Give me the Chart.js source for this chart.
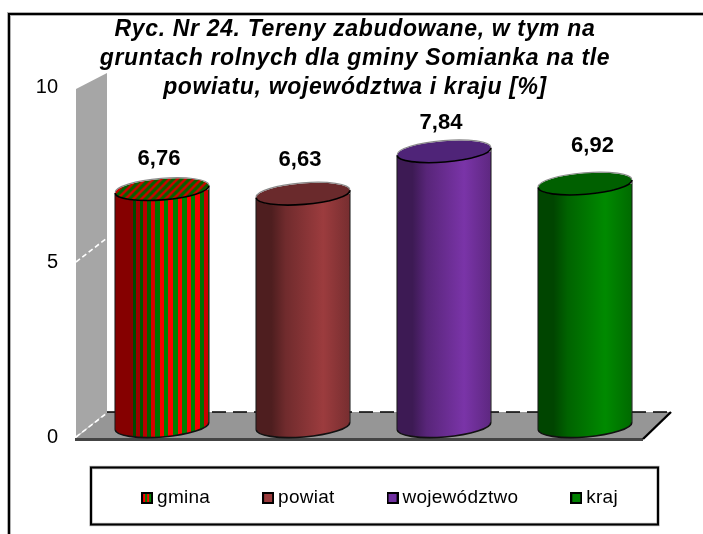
<!DOCTYPE html>
<html>
<head>
<meta charset="utf-8">
<style>html,body{margin:0;padding:0;background:#fff}canvas{display:block}</style>
<script src="https://cdn.jsdelivr.net/npm/chart.js@4/dist/chart.umd.min.js"></script>
</head>
<body>
<canvas id="c" width="703" height="534"></canvas>
<script>
const categories = ['Tereny zabudowane'];
const gmina = [6.76];
const powiat = [6.63];
const wojewodztwo = [7.84];
const kraj = [6.92];
const seriesNames = ['gmina', 'powiat', 'województwo', 'kraj'];
const yTicks = [0, 5, 10];
const titleLines = [
  'Ryc. Nr 24. Tereny zabudowane, w tym na',
  'gruntach rolnych dla gminy Somianka na tle',
  'powiatu, województwa i kraju [%]'
];

const FONT = '"Liberation Sans", Arial, sans-serif';
const DX = 15.5, DY = -11, RY = 10.5, TILT = -0.08;
const looks = [
  {mid:null, top:null, box:'#008000'},
  {mid:[156,60,62], top:'#6a2a2c', box:'#993a3c'},
  {mid:[122,52,168], top:'#4f2478', box:'#7030a0'},
  {mid:[0,138,0], top:'#006000', box:'#008000'}
];
const labelNudge = [[-3, -30.5], [-3, -34.5], [-3, -28.5], [7.5, -37.5]];
const shadeStops = [[0, .5], [.15, .72], [.55, 1], [.85, .75], [1, .35]];

function shade(rgb, k) { return 'rgb(' + rgb.map(v => Math.round(v * k)).join(',') + ')'; }

function stripes(ctx, x0, x1) {
  const g = ctx.createLinearGradient(x0, 0, x1, 0);
  const n = 24, lim = 0.6 * Math.PI / 2;
  const pos = i => 0.5 + 0.5 * Math.sin(-lim + 2 * lim * i / n) / Math.sin(lim);
  for (let i = 0; i < n; i++) {
    const a = pos(i), b = pos(i + 1), m = (a + b) / 2;
    const k = m < 0.55 ? 0.5 + 0.5 * Math.min(1, m / 0.35) : 0.4 + 0.6 * Math.min(1, (1 - m) / 0.3);
    const c = shade(i % 2 ? [0, 128, 0] : [255, 0, 0], k);
    g.addColorStop(a, c); g.addColorStop(b, c);
  }
  return g;
}

function hatch(ctx) {
  const p = document.createElement('canvas');
  p.width = p.height = 8;
  const q = p.getContext('2d');
  q.fillStyle = '#006400'; q.fillRect(0, 0, 8, 8);
  q.strokeStyle = '#d00000'; q.lineWidth = 2.6;
  q.beginPath();
  q.moveTo(-2, 2); q.lineTo(2, -2);
  q.moveTo(-2, 10); q.lineTo(10, -2);
  q.moveTo(6, 10); q.lineTo(10, 6);
  q.stroke();
  return ctx.createPattern(p, 'repeat');
}

function legendBox(i) {
  const p = document.createElement('canvas');
  p.width = p.height = 12;
  const q = p.getContext('2d');
  q.fillStyle = '#000'; q.fillRect(0, 0, 12, 12);
  q.fillStyle = looks[i].box; q.fillRect(2, 2, 8, 8);
  if (i === 0) { q.fillStyle = '#ff0000'; q.fillRect(2, 2, 2, 8); q.fillRect(6, 2, 2, 8); }
  return p;
}

function ellipsePath(ctx, cx, cy, rx) {
  ctx.beginPath();
  ctx.ellipse(cx, cy, rx, RY, TILT, 0, Math.PI * 2);
}

function spaced(box, ctx, spacing) {
  const d = box.draw;
  box.draw = function (area) {
    ctx.save();
    ctx.letterSpacing = spacing;
    d.call(box, area);
    ctx.restore();
  };
}

const scene = {
  id: 'scene',
  afterLayout(chart) {
    const lg = chart.legend, tt = chart.titleBlock;
    lg.left += 59; lg.right += 59;
    lg.top -= 6; lg.bottom -= 6;
    tt.left += 35; tt.right += 35;
    if (!chart.$spaced) {
      spaced(tt, chart.ctx, '0.65px');
      spaced(lg, chart.ctx, '0.25px');
      chart.$spaced = true;
    }
  },
  beforeDraw(chart) {
    const c = chart.ctx;
    c.save();
    c.fillStyle = '#fff'; c.fillRect(0, 0, chart.width, chart.height);
    c.lineJoin = 'miter';
    c.strokeStyle = '#b0b0b0'; c.lineWidth = 4;
    c.beginPath(); c.moveTo(9, 540); c.lineTo(9, 14); c.lineTo(710, 14); c.stroke();
    c.strokeStyle = '#000'; c.lineWidth = 2;
    c.beginPath(); c.moveTo(9, 540); c.lineTo(9, 14); c.lineTo(710, 14); c.stroke();
    c.strokeStyle = '#b0b0b0'; c.lineWidth = 3.4;
    c.strokeRect(91, 467.5, 567, 57);
    c.strokeStyle = '#000'; c.lineWidth = 2;
    c.strokeRect(91, 467.5, 567, 57);
    c.restore();
  },
  beforeDatasetsDraw(chart) {
    const c = chart.ctx, y = chart.scales.y, a = chart.chartArea;
    const L = a.left, R = a.right + 3, B = y.getPixelForValue(0), T = y.getPixelForValue(10);
    const bx = 31, by = -25;
    c.save();
    c.fillStyle = '#a6a6a6';
    c.beginPath();
    c.moveTo(L, T + 2); c.lineTo(L + bx, T - 14); c.lineTo(L + bx, B + by); c.lineTo(L, B); c.closePath();
    c.fill();
    c.fillStyle = '#969696';
    c.beginPath();
    c.moveTo(L, B + 1); c.lineTo(L + bx, B + by); c.lineTo(R + 28, B + by); c.lineTo(R, B + 1); c.closePath();
    c.fill();
    c.fillStyle = '#444';
    c.fillRect(L - 1, B + 1, R - L + 1, 3);
    c.strokeStyle = '#000'; c.lineWidth = 1.6; c.setLineDash([14, 7]);
    c.beginPath(); c.moveTo(L + bx, B + by); c.lineTo(R + 28, B + by); c.stroke();
    c.lineWidth = 2.4; c.setLineDash([]);
    c.beginPath(); c.moveTo(R, B + 2); c.lineTo(R + 28, B + by); c.stroke();
    c.strokeStyle = '#fff'; c.lineWidth = 1.6; c.setLineDash([5, 3]);
    yTicks.slice(0, 2).forEach(v => {
      const p = y.getPixelForValue(v);
      c.beginPath(); c.moveTo(L, p); c.lineTo(L + bx, p - 24); c.stroke();
    });
    c.restore();
  },
  beforeDatasetDraw(chart, args) {
    const c = chart.ctx, i = args.index, el = args.meta.data[0], look = looks[i];
    const rx = el.width / 2, x0 = el.x + DX - rx, x1 = el.x + DX + rx;
    let g;
    if (i === 0) {
      g = stripes(c, x0, x1);
    } else {
      g = c.createLinearGradient(x0, 0, x1, 0);
      shadeStops.forEach(s => g.addColorStop(s[0], shade(look.mid, s[1])));
    }
    el.options.backgroundColor = g;
    const zero = chart.scales.y.getPixelForValue(0), off = rx * Math.sin(-TILT);
    c.save();
    c.translate(DX, DY);
    c.beginPath();
    c.moveTo(el.x - rx, el.y + off);
    c.lineTo(el.x - rx, zero + off);
    c.ellipse(el.x, zero, rx, RY + 0.5, TILT, Math.PI, 0, true);
    c.lineTo(el.x + rx, el.y - off);
    c.ellipse(el.x, el.y, rx, RY, TILT, 0, Math.PI, false);
    c.closePath();
    c.clip();
  },
  afterDatasetDraw(chart, args) {
    const c = chart.ctx, i = args.index, el = args.meta.data[0], look = looks[i];
    const rx = el.width / 2;
    const zero = chart.scales.y.getPixelForValue(0), off = rx * Math.sin(-TILT);
    c.restore();
    c.save();
    c.translate(DX, DY);
    c.strokeStyle = '#1a1a1a'; c.lineWidth = 1;
    c.beginPath();
    c.moveTo(el.x - rx, el.y + off); c.lineTo(el.x - rx, zero + off);
    c.moveTo(el.x + rx, el.y - off); c.lineTo(el.x + rx, zero - off);
    c.stroke();
    c.strokeStyle = '#111'; c.lineWidth = 1.6;
    c.beginPath();
    c.ellipse(el.x, zero, rx, RY + 0.5, TILT, 0, Math.PI, false);
    c.stroke();
    ellipsePath(c, el.x, el.y, rx);
    c.fillStyle = i === 0 ? hatch(c) : look.top;
    c.fill();
    c.strokeStyle = '#8a8a8a'; c.lineWidth = 1.2;
    c.beginPath(); c.ellipse(el.x, el.y - 0.6, rx, RY, TILT, Math.PI, 0, false); c.stroke();
    c.strokeStyle = '#000'; c.lineWidth = 1.6;
    c.beginPath(); c.ellipse(el.x, el.y, rx, RY, TILT, 0, Math.PI, false); c.stroke();
    c.restore();
  },
  afterDatasetsDraw(chart) {
    const c = chart.ctx;
    c.save();
    c.font = 'bold 22px ' + FONT;
    c.fillStyle = '#000'; c.textAlign = 'center'; c.textBaseline = 'middle';
    chart.data.datasets.forEach((d, i) => {
      const el = chart.getDatasetMeta(i).data[0];
      const txt = d.data[0].toFixed(2).replace('.', ',');
      c.fillText(txt, el.x + DX + labelNudge[i][0], el.y + DY + labelNudge[i][1]);
    });
    c.restore();
  }
};

new Chart(document.getElementById('c'), {
  type: 'bar',
  data: {
    labels: categories,
    datasets: [gmina, powiat, wojewodztwo, kraj].map((vals, i) => ({
      label: seriesNames[i],
      data: vals,
      backgroundColor: looks[i].box,
      borderWidth: 0,
      base: -0.5,
      clip: false,
      barPercentage: 0.667,
      categoryPercentage: 1
    }))
  },
  plugins: [scene],
  options: {
    responsive: false,
    animation: false,
    layout: { padding: { left: 0, top: 0, right: 63, bottom: 10.5 } },
    scales: {
      x: { display: false },
      y: {
        min: 0, max: 10,
        afterFit(s) { s.width = 76; },
        grid: { display: false, drawTicks: false },
        border: { display: false },
        ticks: { stepSize: 5, padding: 18, color: '#000', font: { family: FONT, size: 20 } }
      }
    },
    plugins: {
      tooltip: { enabled: false },
      title: {
        display: true,
        text: titleLines,
        color: '#000',
        font: { family: FONT, size: 23, weight: 'bold', style: 'italic', lineHeight: 29 / 23 },
        padding: { top: 15.5, bottom: -15.5 }
      },
      legend: {
        display: true,
        position: 'bottom',
        labels: {
          color: '#000',
          font: { family: FONT, size: 19 },
          usePointStyle: true,
          boxWidth: 1,
          padding: 57.5,
          generateLabels(chart) {
            return Chart.defaults.plugins.legend.labels.generateLabels(chart)
              .map((it, i) => Object.assign(it, { pointStyle: legendBox(i) }));
          }
        }
      }
    }
  }
});
</script>
</body>
</html>
